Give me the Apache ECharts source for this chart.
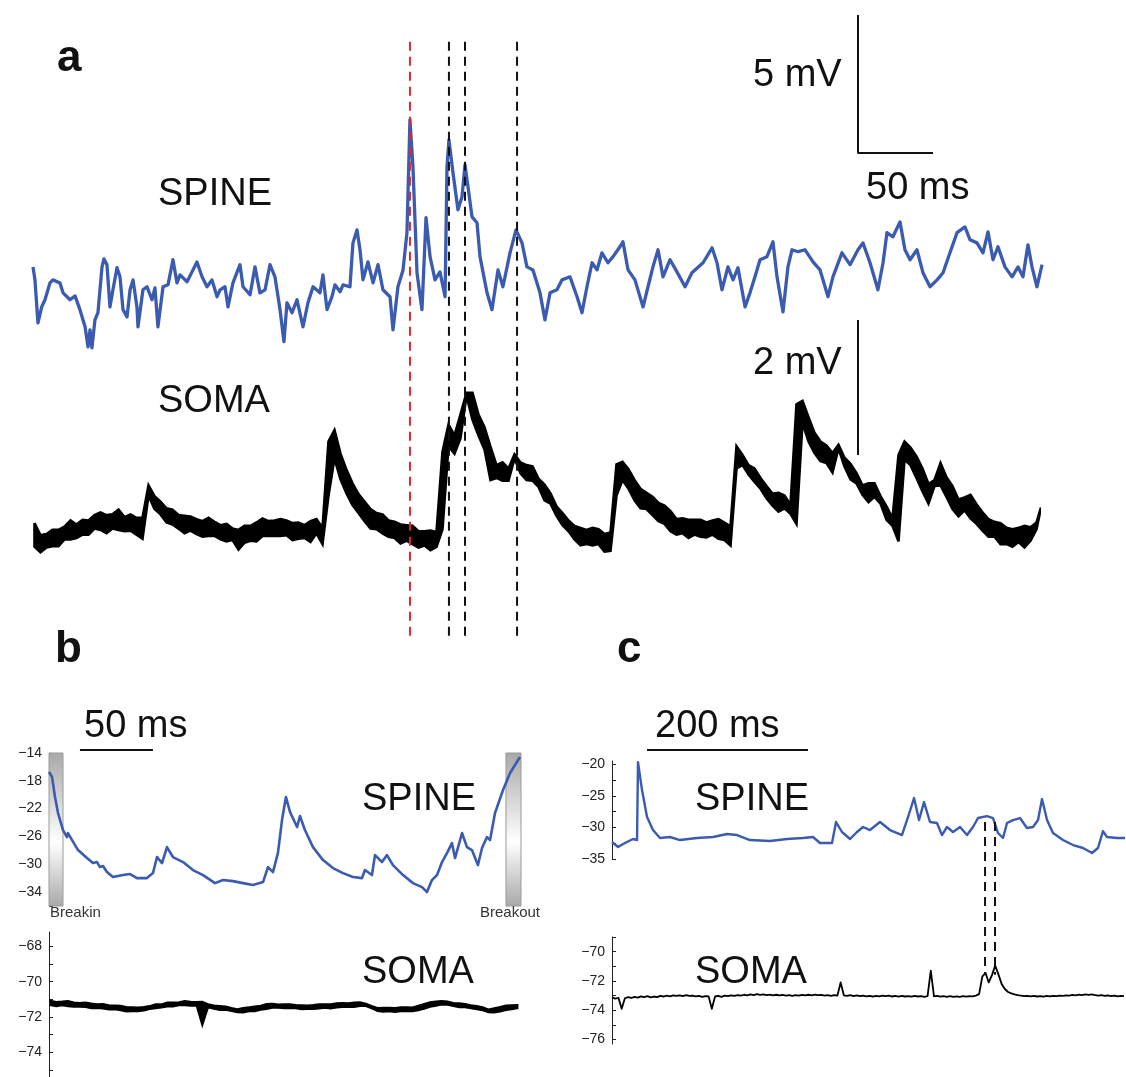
<!DOCTYPE html>
<html>
<head>
<meta charset="utf-8">
<script src="https://cdn.jsdelivr.net/npm/echarts@6/dist/echarts.min.js"></script>
<style>
  html, body { margin: 0; padding: 0; background: #ffffff; }
  #chart { width: 1126px; height: 1077px; }
</style>
</head>
<body>
<div id="chart"></div>
<script>
// ---------- Panel a: simultaneous spine / soma recording (time in ms, ΔV in mV) ----------
const spineA_t = [0,1.3,3.3,5.8,8,11.3,13.3,18,20,24.7,28,31.3,34.7,36.7,38,39.3,41.3,43.3,46,47.3,
  49.3,51.3,53.3,56,58,60,62.7,64.7,66.7,69.3,70,73.3,76,79.3,81.3,83.3,86.7,90,93.3,96,
  98,102.7,106,109.3,112.7,116,119.3,122.7,124.7,128,130,133.3,138,140,144.7,148,151.3,154.7,158,161.3,
  164.7,167.3,169.3,172.7,176,180,183.3,186.7,191.3,193.3,196,199.3,201.3,204.7,206.7,211.3,213.3,216,218,220,
  223.3,226.7,230,233.3,238,240,243.3,246.7,249.3,251.3,253.3,256,259.3,260,262,264.7,268,271.3,274.7,276,
  277.3,280,283.3,286,288,290,292.7,296,298,302.7,306,308,310,313.3,318,322,326,329.3,333.3,338,
  341.3,344.7,349.3,352.7,358,362.7,366,369.3,372.7,376,379.3,383.3,386.7,391.3,393.3,396.7,401.3,406.7,410,413.3,
  416.7,420,424.7,429.3,434.7,439.3,446.7,452.7,456,459.3,463.3,466.7,470,474.7,478,481.3,484.7,489.3,493.3,496,
  500,503.3,506,510,514.7,520,524.7,530,533.3,539.3,544.7,550,553.3,558,563.3,566.7,569.3,573.3,578,581.3,
  584.7,589.3,593.3,598,602.7,606.7,611.3,616,621.3,624.7,629.3,633.3,636.7,640,643.3,648,652.7,656.7,660,663.3,
  666,669.3,672.7];
const spineA_v = [3.33,2.86,1.30,1.88,2.14,2.75,2.86,2.75,2.39,2.14,2.28,1.78,1.16,0.43,1.05,0.40,1.41,1.67,3.33,3.62,
  3.41,1.88,2.50,3.30,2.97,1.78,1.52,2.50,2.86,1.88,1.16,2.50,2.61,2.14,2.57,1.16,2.61,2.68,3.59,2.75,
  3.04,2.79,3.15,3.51,2.97,2.61,2.86,2.25,2.50,2.61,1.88,2.75,3.41,2.61,2.32,3.33,2.39,2.50,3.41,2.97,
  1.78,0.62,2.03,1.67,2.14,1.16,2.03,2.61,2.39,3.04,1.78,2.25,2.68,2.43,2.68,2.61,4.20,4.67,3.95,2.86,
  3.51,2.75,3.41,2.50,2.25,1.05,2.61,3.22,4.57,8.66,6.96,3.12,1.78,2.61,5.11,3.70,2.86,3.15,2.25,6.96,
  7.93,6.74,5.40,5.87,7.03,6.23,5.14,4.93,3.70,2.39,1.78,2.50,3.22,2.61,3.84,4.67,4.20,3.33,3.22,2.39,
  1.41,2.39,2.50,2.86,2.97,2.25,1.67,2.61,3.48,3.22,3.84,3.48,3.70,4.06,4.24,3.22,2.86,1.88,2.61,3.33,
  3.95,2.97,3.59,3.15,2.61,3.12,3.48,4.02,3.48,2.50,3.33,2.86,3.30,1.88,2.39,2.97,3.59,3.70,4.24,2.97,
  1.70,3.33,3.95,3.88,3.95,3.51,3.22,2.25,2.97,3.84,3.41,3.95,4.20,3.48,2.50,3.48,4.57,4.42,4.96,3.95,
  3.59,3.95,3.12,2.61,2.86,3.12,3.84,4.57,4.78,4.31,4.20,3.84,4.60,3.59,4.06,3.33,2.97,3.33,2.97,4.13,
  3.33,2.61,3.41];

// somatic trace, sampled every 2 ms from t = 0
const somaA_dt = 2;
const somaA_v = [
  .79,.44,.61,.36,.63,.43,.69,.45,.69,.45,.74,.55,.83,.55,.77,.57,.84,.62,.83,.62,.91,.71,.95,.69,.91,.64,.92,.71,.99,.69,.88,.67,.92,.68,.87,.62,.87,.56,
  1.20,1.35,1.00,1.19,.92,1.11,.80,1.01,.77,.99,.71,.91,.64,.90,.68,.89,.63,.85,.59,.82,.60,.87,.60,.81,.55,.76,.52,.78,.54,.71,.40,.69,.50,.75,.53,.75,.52,.80,.60,.86,.60,.82,.60,.83,.60,.85,.61,.83,.54,.79,.56,.80,.57,.76,.51,.82,.64,.85,.48,.72,
  1.20,2.00,2.17,1.75,1.82,1.44,1.58,1.23,1.38,1.06,1.22,.94,1.11,.82,1.00,.71,.94,.70,.92,.64,.83,.59,.81,.57,.77,.49,.76,.53,.75,.48,.67,.43,.67,.46,.68,.39,.66,.44,
  .70,1.85,2.25,1.93,2.09,1.82,2.05,2.40,2.72,2.68,2.72,2.32,2.40,2.09,2.21,1.88,1.92,1.43,1.65,1.46,1.69,1.42,1.60,1.42,1.75,1.81,1.53,1.69,1.43,1.65,1.42,1.63,1.33,1.45,1.13,1.36,1.08,1.23,.90,1.04,.76,.94,.67,.83,.55,.75,.46,.72,.48,.69,.46,.72,.48,.70,.37,.63,.38,.65,
  1.20,1.66,1.70,1.43,1.59,1.30,1.43,1.13,1.30,1.01,1.24,1.00,1.18,.91,1.09,.82,1.05,.78,.97,.67,.85,.62,.86,.64,.84,.57,.84,.62,.84,.59,.80,.58,.83,.62,.85,.56,.80,.54,.74,.46,
  1.60,1.93,1.65,1.80,1.51,1.65,1.40,1.60,1.30,1.46,1.16,1.34,1.05,1.23,.96,1.24,1.01,1.20,.93,1.06,.78,
  2.55,2.60,2.28,2.36,2.00,2.13,1.83,2.00,1.71,1.94,1.68,1.83,1.54,1.95,1.90,1.63,1.76,1.44,1.67,1.38,1.53,1.21,1.35,1.10,1.38,1.18,1.38,1.08,1.19,.84,1.04,.75,.86,.52,
  1.80,2.00,1.73,1.91,1.65,1.78,1.46,1.60,1.26,1.37,1.08,1.43,1.34,1.68,1.35,1.47,1.18,1.34,1.00,1.14,.89,1.17,.98,1.21,.86,1.07,.78,.95,.68,.85,.59,.81,.59,.79,.48,.72,.48,.70,.44,.72,.51,.75,.43,.73,.53,.80,.70,1.02];

// event times (ms) marked by dashed lines
const spikeMarkA = [251.3];
const eventMarksA = [277.3, 288.0, 322.7];

// ---------- Panel b: spine between break-in and break-out, silent soma (mV) ----------
const spineB_t = [0,2.1,4.1,6.2,9.6,12.3,13.0,15.8,19.9,26.0,30.1,32.9,34.9,37.0,39.7,43.8,50.7,55.5,60.3,67.1,
  71.2,74.0,77.4,80.8,84.9,91.8,98.6,105.5,113.7,119.2,126.0,132.9,139.7,146.6,150.0,153.4,156.8,159.6,162.3,165.1,
  169.9,171.9,175.3,180.8,187.7,194.5,201.4,208.2,214.4,216.4,221.2,223.3,228.1,231.5,235.6,242.5,249.3,255.5,258.9,262.3,
  265.8,269.2,272.6,276.0,278.1,282.9,286.3,289.7,293.8,296.6,300.0,302.1,305.5,311.0,315.8,322.6];
const spineB_v = [-16.73,-17.45,-20.33,-22.63,-25.08,-26.09,-25.51,-26.52,-27.96,-29.11,-29.83,-29.68,-30.40,-30.26,-31.12,-31.84,-31.55,-31.41,-31.99,-31.99,
  -31.27,-28.96,-29.83,-27.53,-28.96,-29.68,-30.83,-31.55,-32.71,-32.27,-32.42,-32.71,-32.99,-32.56,-30.40,-31.12,-28.39,-23.64,-20.33,-22.49,
  -24.65,-23.06,-25.08,-27.53,-29.40,-30.55,-31.27,-31.84,-31.99,-30.83,-31.55,-28.68,-29.68,-28.68,-30.12,-31.55,-32.71,-33.28,-34.00,-32.27,
  -31.55,-29.68,-28.39,-26.95,-29.11,-25.51,-27.53,-27.96,-30.12,-27.67,-26.09,-26.52,-22.63,-19.32,-16.88,-14.58];

const somaB_dt = 2;
const somaB_v = [-71.06,-71.34,-71.13,-71.40,-71.11,-71.35,-71.08,-71.40,
  -71.16,-71.43,-71.20,-71.43,-71.17,-71.44,-71.22,-71.51,-71.26,-71.50,-71.25,
  -71.53,-71.32,-71.59,-71.33,-71.57,-71.35,-71.63,-71.42,-71.70,-71.43,-71.68,-71.45,
  -71.69,-71.42,-71.64,-71.37,-71.56,-71.26,
  -71.52,-71.27,-71.47,-71.17,-71.42,-71.17,-71.41,-71.15,-71.35,-71.08,
  -71.34,-71.12,-71.37,-71.14,-71.36,-71.13,
  -72.50,
  -71.47,-71.26,-71.54,-71.34,-71.61,-71.36,-71.60,-71.39,-71.67,-71.47,-71.74,-71.54,
  -71.76,-71.47,-71.68,-71.44,-71.69,-71.39,-71.60,-71.35,-71.56,-71.25,-71.49,-71.24,
  -71.49,-71.28,-71.52,-71.27,-71.51,-71.27,-71.51,-71.30,-71.57,-71.32,-71.55,-71.34,
  -71.56,-71.31,-71.53,-71.26,-71.49,-71.26,-71.53,-71.26,-71.47,-71.21,-71.44,-71.20,
  -71.43,-71.21,-71.44,-71.17,-71.39,-71.15,-71.39,
  -71.23,-71.52,-71.36,-71.67,-71.47,
  -71.71,-71.46,-71.68,-71.46,-71.73,-71.47,-71.69,-71.43,-71.67,-71.44,-71.69,-71.45,
  -71.63,-71.35,-71.55,-71.25,-71.43,-71.15,-71.37,-71.11,-71.30,
  -71.08,-71.32,-71.11,-71.39,-71.19,-71.46,-71.21,-71.46,-71.25,-71.52,-71.32,-71.57,
  -71.37,-71.63,-71.44,-71.74,-71.56,
  -71.75,-71.49,-71.70,-71.42,-71.61,-71.34,-71.57,-71.32,-71.51,-71.31];

// recording windows shaded grey (ms): break-in and break-out
const breakWindows = [[0, 9.6], [313.0, 323.3]];
const breakLabels = ['Breakin', 'Breakout'];

// ---------- Panel c: longer spine recording with a coincident somatic event (mV) ----------
const spineC_t = [0,7.5,16.1,26.1,31.1,32.3,37.3,43.5,50.9,59.6,72.0,84.5,105.6,125.5,142.9,155.3,171.4,196.3,217.4,237.3,
  249.7,258.4,273.3,278.3,285.7,295.7,304.3,311.8,320.5,332.9,345.3,360.2,367.7,375.2,381.4,387.6,395.0,403.7,409.9,416.1,
  423.6,432.3,441.0,448.4,454.7,465.8,473.3,479.5,485.7,490.7,498.1,506.8,515.5,523.0,529.2,534.2,540.4,547.8,560.2,572.7,
  585.1,596.3,603.7,609.9,614.9,627.3,637.3];
const spineC_v = [-32.31,-33.10,-32.47,-31.84,-32.00,-19.68,-24.10,-28.37,-30.42,-31.68,-31.52,-32.00,-31.68,-31.52,-31.05,-31.21,-32.00,-32.16,-31.84,-31.68,
  -31.52,-32.47,-32.47,-29.15,-30.73,-31.84,-30.73,-29.94,-30.42,-29.15,-30.42,-31.21,-28.37,-25.36,-28.84,-26.00,-29.15,-29.31,-31.21,-29.94,
  -30.73,-29.94,-31.21,-29.94,-28.52,-28.21,-28.52,-30.89,-31.68,-29.31,-28.84,-28.52,-30.10,-29.94,-28.84,-25.52,-28.84,-30.89,-32.00,-32.79,
  -33.26,-34.05,-33.26,-30.58,-31.52,-31.68,-31.68];

const somaC_dt = 4;
const somaC_v = [-73.12,-73.20,-73.15,-73.90,-73.18,-73.10,-73.16,-73.08,-73.14,-73.05,
  -73.10,-73.04,-73.12,-73.06,-73.10,-73.02,-73.06,-73.00,-73.05,-72.98,
  -73.02,-72.98,-73.03,-72.97,-73.02,-73.00,-73.05,-73.02,-73.08,-73.03,
  -73.05,-73.90,
  -73.06,-73.02,-73.08,-73.00,-73.04,-72.98,-73.02,-72.96,
  -73.00,-72.94,-72.98,-72.92,-72.96,-72.90,-72.95,-72.92,-72.97,-72.93,
  -72.98,-72.94,-72.99,-72.95,-73.00,-72.96,-73.02,-72.97,-73.00,-72.95,
  -72.99,-72.94,-72.98,-72.93,-72.97,-72.95,-73.00,-72.96,-73.01,-72.97,
  -73.00,-72.10,
  -72.98,-73.02,-72.97,-73.03,-72.98,-73.04,-73.00,-73.05,
  -73.02,-73.06,-73.01,-73.05,-73.00,-73.04,-73.00,-73.06,-73.02,-73.07,
  -73.02,-73.06,-73.03,-73.07,-73.02,-73.06,-73.03,-73.08,-73.04,-71.30,
  -73.05,-73.02,-73.07,-73.03,-73.08,-73.04,-73.09,-73.05,-73.08,-73.04,
  -73.07,-73.03,-73.05,-73.00,
  -72.90,-71.70,-71.45,-72.10,-71.60,-70.95,-71.55,-72.20,-72.55,-72.75,-72.85,-72.92,-72.97,
  -73.00,-73.04,-73.01,
  -73.05,-73.02,-73.06,-73.03,-73.07,-73.02,-73.05,-73.01,-73.04,-73.00,
  -73.02,-72.98,-73.00,-72.95,-72.98,-72.93,-72.96,-72.92,-72.95,-72.92,
  -72.96,-73.00,-72.97,-73.02,-72.99,-73.04,-73.00,-73.05,-73.02,-73.04];

const eventMarksC = [463.4, 475.8];

// ---------- helpers ----------
const FONT = '"Liberation Sans", Arial, Helvetica, sans-serif';
const BLUE = '#3a5bb0';
const zipPairs = (t, v) => t.map((x, i) => [x, v[i]]);
const sampled = (v, dt) => v.map((y, i) => [i * dt, y]);
const minus = v => String(v).replace('-', '\u2212');

function hiddenAxis(gridIndex, min, max) {
  return { type: 'value', gridIndex, min, max, show: false };
}
function traceAxis(gridIndex, min, max, labels, ticks) {
  return {
    type: 'value', gridIndex, min, max, position: 'left',
    axisLine: { show: true, onZero: false, lineStyle: { color: '#222', width: 1 } },
    axisTick: { show: true, inside: true, length: 4, customValues: ticks, lineStyle: { color: '#222', width: 1 } },
    axisLabel: { show: true, customValues: labels, margin: 7, fontSize: 14, color: '#222', fontFamily: FONT, formatter: minus },
    splitLine: { show: false }
  };
}
function trace(xi, yi, data, color, width, z) {
  return { type: 'line', xAxisIndex: xi, yAxisIndex: yi, data, showSymbol: false, symbol: 'none',
    lineStyle: { color, width, join: 'round' }, z: z || 3, silent: true, animation: false };
}
// A noisy recording drawn as its min/max envelope: each pair of consecutive
// samples gives the low and high edge of the band at that instant.
function noisyTrace(xi, yi, samples, dt, color, edge) {
  const hi = [], lo = [];
  for (let k = 0; k < samples.length; k += 2) {
    const a = samples[k], b = k + 1 < samples.length ? samples[k + 1] : samples[k];
    const t = (k + (k + 1 < samples.length ? 0.5 : 0)) * dt;
    hi.push([t, Math.max(a, b)]);
    lo.push([t, Math.min(a, b)]);
  }
  return {
    type: 'custom', xAxisIndex: xi, yAxisIndex: yi, data: [[0, samples[0]]], z: 3, silent: true, clip: true,
    encode: { x: 0, y: 1 },
    renderItem(params, api) {
      const pts = hi.map(p => api.coord(p)).concat(lo.slice().reverse().map(p => api.coord(p)));
      return { type: 'polygon', shape: { points: pts },
        style: { fill: color, stroke: color, lineWidth: edge, lineJoin: 'miter', miterLimit: 4 } };
    }
  };
}
function segment(xi, yi, data, color, width, dash, clip) {
  return { type: 'line', xAxisIndex: xi, yAxisIndex: yi, data, showSymbol: false, symbol: 'none',
    lineStyle: { color, width, type: dash || 'solid', cap: 'butt' }, z: 6, silent: true, clip: clip !== false, animation: false };
}
function label(text, x, y, size, bold) {
  return { type: 'text', x, y, silent: true, z: 10,
    style: { text, fill: '#111', font: (bold ? 'bold ' : '') + size + 'px ' + FONT, textAlign: 'left', textVerticalAlign: 'middle' } };
}

// dashed marker lines in panel a, expressed on the spine axis
const A_TOP = 11.49, A_BOTTOM = -10.18;
const dashedA = [
  ...spikeMarkA.map(t => segment(0, 0, [[t, A_TOP], [t, A_BOTTOM]], '#e3262b', 2, [9, 6])),
  ...eventMarksA.map(t => segment(0, 0, [[t, A_TOP], [t, A_BOTTOM]], '#111', 2, [9, 6]))
];
const dashedC = eventMarksC.map(t => segment(3, 4, [[t, -29.15], [t, -53.3]], '#111', 2, [9, 6], false));

const breakGradient = { type: 'linear', x: 0, y: 0, x2: 0, y2: 1, colorStops: [
  { offset: 0, color: '#a8a8a8' }, { offset: 0.58, color: '#ffffff' }, { offset: 1, color: '#a8a8a8' } ] };

const option = {
  backgroundColor: '#ffffff',
  animation: false,
  grid: [
    { left: 33, top: 0, width: 1008, height: 644, outerBoundsMode: 'none', containLabel: false },
    { left: 49, top: 753, width: 472, height: 153, outerBoundsMode: 'none', containLabel: false },
    { left: 49, top: 932, width: 472, height: 145, outerBoundsMode: 'none', containLabel: false },
    { left: 612, top: 761, width: 514, height: 98, outerBoundsMode: 'none', containLabel: false },
    { left: 612, top: 937, width: 514, height: 107, outerBoundsMode: 'none', containLabel: false }
  ],
  xAxis: [
    hiddenAxis(0, 0, 672),
    hiddenAxis(1, 0, 323.3),
    hiddenAxis(2, 0, 323.3),
    hiddenAxis(3, 0, 638.5),
    hiddenAxis(4, 0, 638.5)
  ],
  yAxis: [
    hiddenAxis(0, -10.333, 13),
    hiddenAxis(0, -1, 8.54),
    traceAxis(1, -36, -14, [-34, -30, -26, -22, -18, -14], [-36, -34, -32, -30, -28, -26, -24, -22, -20, -18, -16, -14]),
    traceAxis(2, -75.4, -67.18, [-74, -72, -70, -68], [-75, -74, -73, -72, -71, -70, -69, -68]),
    traceAxis(3, -35, -19.5, [-35, -30, -25, -20], [-35, -32.5, -30, -27.5, -25, -22.5, -20]),
    traceAxis(4, -76.3, -69, [-76, -74, -72, -70], [-76, -75, -74, -73, -72, -71, -70, -69])
  ],
  series: [
    // panel a
    trace(0, 0, zipPairs(spineA_t, spineA_v), BLUE, 3.3),
    noisyTrace(0, 1, somaA_v, somaA_dt, '#000', 2.6),
    ...dashedA,
    segment(0, 0, [[550, 12.46], [550, 7.46], [600, 7.46]], '#111', 2),
    segment(0, 1, [[550, 3.8], [550, 1.8]], '#111', 2),
    // panel b
    {
      type: 'custom', xAxisIndex: 1, yAxisIndex: 2, data: breakWindows, z: 1, silent: true,
      encode: { x: [0, 1] },
      renderItem(params, api) {
        const p0 = api.coord([api.value(0), -14]);
        const p1 = api.coord([api.value(1), -36]);
        return { type: 'rect', shape: { x: p0[0], y: p0[1], width: p1[0] - p0[0], height: p1[1] - p0[1] },
          style: { fill: breakGradient, stroke: '#9a9a9a', lineWidth: 1 } };
      }
    },
    trace(1, 2, zipPairs(spineB_t, spineB_v), BLUE, 2.6),
    noisyTrace(2, 3, somaB_v, somaB_dt, '#000', 1.6),
    segment(1, 2, [[21.2, -13.57], [71.2, -13.57]], '#111', 2, 'solid', false),
    // panel c
    trace(3, 4, zipPairs(spineC_t, spineC_v), BLUE, 2.4),
    trace(4, 5, sampled(somaC_v, somaC_dt), '#000', 1.8),
    ...dashedC,
    segment(3, 4, [[43.5, -17.76], [243.5, -17.76]], '#111', 2, 'solid', false)
  ],
  graphic: [
    label('a', 57, 59, 44, true),
    label('SPINE', 158, 195, 38),
    label('SOMA', 158, 402, 38),
    label('5 mV', 753, 76, 38),
    label('50 ms', 866, 189, 38),
    label('2 mV', 753, 364, 38),
    label('b', 55, 650, 44, true),
    label('c', 617, 650, 44, true),
    label('50 ms', 84, 727, 38),
    label('SPINE', 362, 800, 38),
    label('SOMA', 362, 973, 38),
    label('200 ms', 655, 727, 38),
    label('SPINE', 695, 800, 38),
    label('SOMA', 695, 973, 38),
    { type: 'text', x: 50, y: 913, silent: true, z: 10,
      style: { text: breakLabels[0], fill: '#333', font: '15px ' + FONT, textAlign: 'left', textVerticalAlign: 'middle' } },
    { type: 'text', x: 480, y: 913, silent: true, z: 10,
      style: { text: breakLabels[1], fill: '#333', font: '15px ' + FONT, textAlign: 'left', textVerticalAlign: 'middle' } }
  ]
};

const chart = echarts.init(document.getElementById('chart'), null, { renderer: 'canvas' });
chart.setOption(option);
</script>
</body>
</html>
